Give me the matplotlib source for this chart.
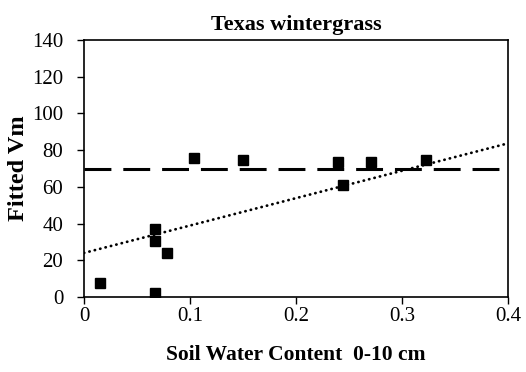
import numpy as np
import matplotlib
matplotlib.use("Agg")
import matplotlib.pyplot as plt

# soil water content (0-10 cm) vs fitted Vm, Texas wintergrass
swc = [0.015, 0.067, 0.067, 0.067, 0.078, 0.104, 0.150, 0.240, 0.244, 0.271, 0.323]
vm = [7.6, 37.3, 30.3, 2.2, 24.2, 75.9, 74.5, 73.5, 60.8, 73.5, 74.5]

mean_vm = 69.6           # dashed horizontal line
trend_x = [0.0, 0.4]     # dotted trend line end points
trend_y = [24.0, 83.7]

plt.rcParams['font.family'] = ['Liberation Serif', 'DejaVu Serif']

fig = plt.figure(figsize=(5.26, 3.72), dpi=100)
ax = fig.add_axes([84 / 526, 1 - 297 / 372, 424 / 526, 257 / 372])

ax.plot(trend_x, trend_y, color='black', linestyle=(0, (0.1, 1.9)), linewidth=2.0,
        dash_capstyle='round', zorder=2)
ax.axhline(mean_vm, color='black', linestyle=(0, (8.8, 3.9)), linewidth=2.2, zorder=2)
ax.plot(swc, vm, linestyle='none', marker='s', markersize=6.5, color='black', zorder=3)

ax.set_xlim(0, 0.4)
ax.set_ylim(0, 140)
ax.set_xticks([0, 0.1, 0.2, 0.3, 0.4])
ax.set_xticklabels(['0', '0.1', '0.2', '0.3', '0.4'])
ax.set_yticks(range(0, 141, 20))
ax.tick_params(direction='out', length=5, width=1, labelsize=15)
ax.tick_params(axis='x', pad=2)
ax.tick_params(axis='y', pad=10)
for s in ax.spines.values():
    s.set_linewidth(1.2)

ax.set_title('Texas wintergrass', fontsize=16, fontweight='bold', pad=7)
ax.set_xlabel('Soil Water Content  0-10 cm', fontsize=15.5, fontweight='bold', labelpad=14)
ax.set_ylabel('Fitted Vm', fontsize=17.5, fontweight='bold', labelpad=2)

fig.savefig('out.png', dpi=100)
